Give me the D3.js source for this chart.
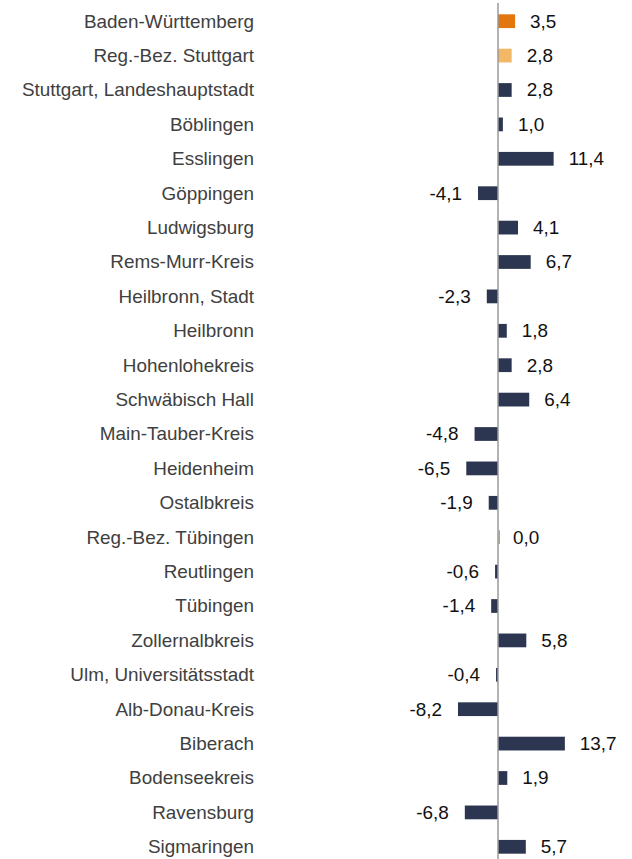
<!DOCTYPE html>
<html>
<head>
<meta charset="utf-8">
<script src="https://cdn.jsdelivr.net/npm/d3@7"></script>
<style>
  html, body { margin: 0; padding: 0; background: #fff; }
</style>
</head>
<body>
<svg id="chart" width="632" height="859" font-family="'Liberation Sans', Arial, Helvetica, sans-serif"></svg>
<script>
const regions = [
  "Baden-Württemberg", "Reg.-Bez. Stuttgart", "Stuttgart, Landeshauptstadt", "Böblingen",
  "Esslingen", "Göppingen", "Ludwigsburg", "Rems-Murr-Kreis", "Heilbronn, Stadt",
  "Heilbronn", "Hohenlohekreis", "Schwäbisch Hall", "Main-Tauber-Kreis", "Heidenheim",
  "Ostalbkreis", "Reg.-Bez. Tübingen", "Reutlingen", "Tübingen", "Zollernalbkreis",
  "Ulm, Universitätsstadt", "Alb-Donau-Kreis", "Biberach", "Bodenseekreis",
  "Ravensburg", "Sigmaringen"
];
const changes = [
  3.5, 2.8, 2.8, 1.0, 11.4, -4.1, 4.1, 6.7, -2.3, 1.8, 2.8, 6.4, -4.8, -6.5,
  -1.9, 0.0, -0.6, -1.4, 5.8, -0.4, -8.2, 13.7, 1.9, -6.8, 5.7
];
// level of each region: state, administrative district, or district/city
const levels = [
  "land", "rb", "kreis", "kreis", "kreis", "kreis", "kreis", "kreis", "kreis",
  "kreis", "kreis", "kreis", "kreis", "kreis", "kreis", "rb", "kreis", "kreis",
  "kreis", "kreis", "kreis", "kreis", "kreis", "kreis", "kreis"
];
const levelColors = { land: "#E2760F", rb: "#F2B866", kreis: "#2D3651" };

const data = regions.map((name, i) => ({ name, value: changes[i], level: levels[i] }));

const svg = d3.select("#chart");
const zeroX = 498;
const unit = 4.88;
const stretch = 1.05; // slightly widened lettering

const x = d3.scaleLinear()
  .domain([-10, 15])
  .range([zeroX - 10 * unit, zeroX + 15 * unit]);

const y = d3.scaleBand()
  .domain(regions)
  .range([4, 864])
  .paddingInner(0.6)
  .paddingOuter(0.3);

const yc = d => y(d.name) + y.bandwidth() / 2;

// German decimal comma, plain hyphen for negatives
const fmt = v => v.toFixed(1).replace(".", ",");

// bars (a zero value still shows as a hairline mark beside the axis)
svg.append("g").selectAll("rect")
  .data(data)
  .join("rect")
  .attr("x", d => d.value === 0 ? x(0) + 0.5 : x(Math.min(0, d.value)))
  .attr("width", d => d.value === 0 ? 1.5 : Math.abs(x(d.value) - x(0)))
  .attr("y", d => y(d.name))
  .attr("height", y.bandwidth())
  .attr("fill", d => d.value === 0 ? "#C9A062" : levelColors[d.level]);

// zero axis
svg.append("line")
  .attr("x1", x(0)).attr("x2", x(0))
  .attr("y1", 3).attr("y2", 859)
  .attr("stroke", "#9a9a9a")
  .attr("stroke-width", 1.5);

// category labels
svg.append("g").selectAll("text")
  .data(data)
  .join("text")
  .attr("transform", d => `translate(254,${yc(d)}) scale(${stretch},1)`)
  .attr("dy", "0.35em")
  .attr("text-anchor", "end")
  .attr("font-size", 18)
  .attr("fill", "#404040")
  .text(d => d.name);

// value labels
svg.append("g").selectAll("text")
  .data(data)
  .join("text")
  .attr("transform", d => {
    const tx = d.value >= 0 ? x(d.value) + 15 : x(d.value) - 16;
    return `translate(${tx},${yc(d)}) scale(${stretch},1)`;
  })
  .attr("dy", "0.35em")
  .attr("text-anchor", d => d.value >= 0 ? "start" : "end")
  .attr("font-size", 18)
  .attr("fill", "#111")
  .text(d => fmt(d.value));
</script>
</body>
</html>
